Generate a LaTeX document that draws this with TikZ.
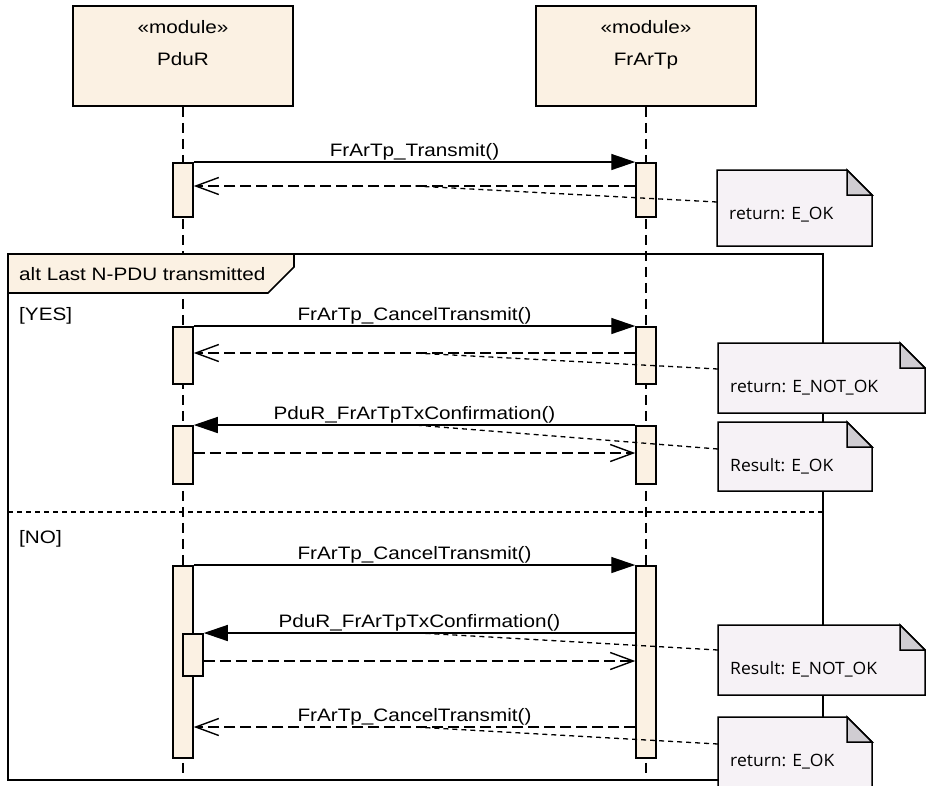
\documentclass[tikz,border=0pt]{standalone}
\usepackage{fontspec}
\setmainfont{Liberation Sans}
\newfontfamily\notefont{Open Sans}
\usetikzlibrary{arrows.meta,positioning}
\definecolor{boxfill}{RGB}{251,241,227}
\definecolor{notefill}{RGB}{246,242,246}
\definecolor{foldfill}{RGB}{208,205,210}
\tikzset{%
   head/.style={rectangle, draw=black, line width=1.6pt, fill=boxfill, minimum width=220pt, minimum height=100pt, inner sep=0pt},
   act/.style={rectangle, draw=black, line width=1.5pt, fill=boxfill, minimum width=20pt, inner sep=0pt, anchor=north},
   life/.style={line width=1.6pt, dash pattern=on 10pt off 6pt},
   call/.style={line width=1.4pt, -{Triangle[length=24pt,width=16pt]}},
   ret/.style={line width=1.4pt, dash pattern=on 11pt off 5pt, -{Straight Barb[length=23pt,width=17pt,line width=1.4pt]}},
   txt/.style={inner sep=0pt, xscale=1.15, font=\fontsize{18}{21}\selectfont},
   msg/.style={txt, midway, anchor=base, yshift=6pt},
   link/.style={line width=1.3pt, dash pattern=on 5pt off 4pt},
   notetxt/.style={inner sep=0pt, anchor=base west, xscale=1.03, font=\notefont\fontsize{17}{20}\selectfont},
}
\newcommand{\umlnote}[6]{%
   \filldraw[draw=black, line width=1.5pt, fill=notefill] (#2,#3) -- (#4-25,#3) -- (#4,#3+25) -- (#4,#5) -- (#2,#5) -- cycle;
   \filldraw[draw=black, line width=1.5pt, fill=foldfill] (#4-25,#3) -- (#4-25,#3+25) -- (#4,#3+25) -- cycle;
   \node[notetxt] (#1) at (#2+12,#3+49) {#6};
}

\begin{document}
\begin{tikzpicture}[x=1pt, y=-1pt]
   \useasboundingbox (0,0) rectangle (926,785);
   % lifelines
   \node[head] (pdur) at (183,56) {};
   \node[head] (frartp) at (646,56) {};
   \node[txt, anchor=base] (pdurst) at (183,33) {«module»};
   \node[txt, anchor=base] (pdurnm) at (183,65) {PduR};
   \node[txt, anchor=base] (frartpst) at (646,33) {«module»};
   \node[txt, anchor=base] (frartpnm) at (646,65) {FrArTp};
   \coordinate (pend) at (183,779);
   \coordinate (fend) at (646,779);
   \draw[life] (pdur.south) -- (pend);
   \draw[life] (frartp.south) -- (fend);
   % alt frame
   \draw[line width=1.6pt] (8,254) rectangle (823,780);
   \filldraw[draw=black, line width=1.6pt, fill=boxfill] (8,254) -- (294,254) -- (294,267) -- (268,293) -- (8,293) -- cycle;
   \node[txt, anchor=base west] (alt) at (19,280) {alt Last N-PDU transmitted};
   \node[txt, anchor=base west] (yes) at (19,320) {[YES]};
   \draw[link] (8,512) -- (823,512);
   \node[txt, anchor=base west] (no) at (19,543) {[NO]};
   % activations
   \node[act, minimum height=54pt] (p1) at (183,162) {};
   \node[act, minimum height=54pt] (f1) at (646,162) {};
   \node[act, minimum height=57pt] (p2) at (183,326) {};
   \node[act, minimum height=57pt] (f2) at (646,326) {};
   \node[act, minimum height=58pt] (p3) at (183,425) {};
   \node[act, minimum height=58pt] (f3) at (646,425) {};
   \node[act, minimum height=192pt] (p4) at (183,565) {};
   \node[act, minimum height=192pt] (f4) at (646,565) {};
   \node[act, minimum height=42pt] (pn) at (193,633) {};
   % messages
   \coordinate (r1) at (0,186);
   \coordinate (r2) at (0,353);
   \coordinate (r3) at (0,453);
   \coordinate (m5) at (0,633);
   \coordinate (r5) at (0,661);
   \coordinate (r6) at (0,727);
   \draw[call] (p1.north east) -- node[msg] {FrArTp\_Transmit()} (f1.north west);
   \draw[ret] (f1.west |- r1) -- coordinate[midway] (r1m) (p1.east |- r1);
   \draw[call] (p2.north east) -- node[msg] {FrArTp\_CancelTransmit()} (f2.north west);
   \draw[ret] (f2.west |- r2) -- coordinate[midway] (r2m) (p2.east |- r2);
   \draw[call] (f3.north west) -- node[msg] {PduR\_FrArTpTxConfirmation()} coordinate[midway] (m3m) (p3.north east);
   \draw[ret] (p3.east |- r3) -- (f3.west |- r3);
   \draw[call] (p4.north east) -- node[msg] {FrArTp\_CancelTransmit()} (f4.north west);
   \draw[call] (f4.west |- m5) -- node[msg] {PduR\_FrArTpTxConfirmation()} coordinate[midway] (m5m) (pn.north east);
   \draw[ret] (pn.east |- r5) -- (f4.west |- r5);
   \draw[ret] (f4.west |- r6) -- node[msg] {FrArTp\_CancelTransmit()} coordinate[midway] (r6m) (p4.east |- r6);
   % notes
   \coordinate (n1) at (717,202);
   \coordinate (n2) at (718,369);
   \coordinate (n3) at (718,449);
   \coordinate (n4) at (718,650);
   \coordinate (n5) at (718,744);
   \draw[link] (n1) -- (r1m);
   \draw[link] (n2) -- (r2m);
   \draw[link] (n3) -- (m3m);
   \draw[link] (n4) -- (m5m);
   \draw[link] (n5) -- (r6m);
   \umlnote{note1}{717}{170}{872}{246}{return: E\_OK}
   \umlnote{note2}{718}{343}{925}{413}{return: E\_NOT\_OK}
   \umlnote{note3}{718}{422}{872}{491}{Result: E\_OK}
   \umlnote{note4}{718}{625}{925}{695}{Result: E\_NOT\_OK}
   \umlnote{note5}{718}{717}{872}{800}{return: E\_OK}
\end{tikzpicture}
\end{document}
